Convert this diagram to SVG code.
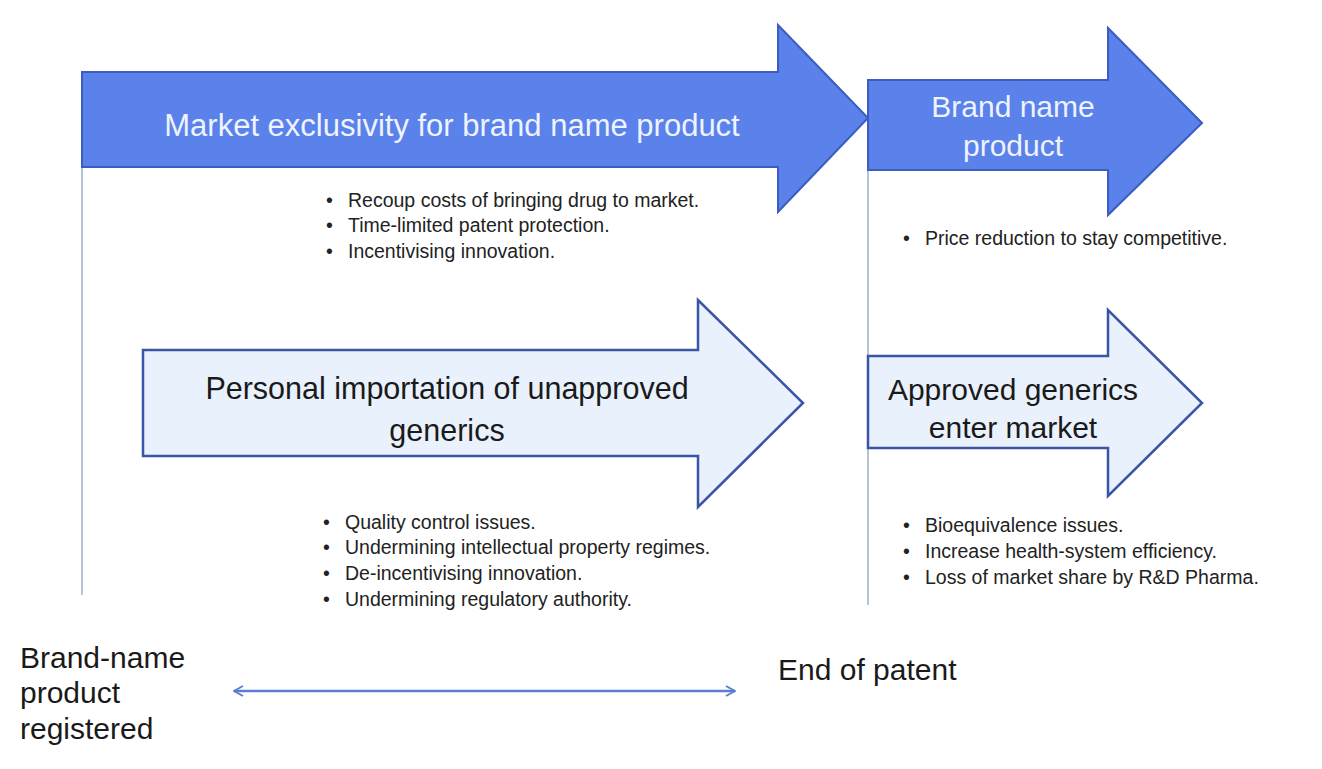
<svg xmlns="http://www.w3.org/2000/svg" width="1322" height="769" viewBox="0 0 1322 769">
<defs>
<style>
.dark{fill:#5a82ea;stroke:#3b5cc0;stroke-width:2;stroke-linejoin:miter}
.light{fill:#e9f1fc;stroke:#3b55a6;stroke-width:2.5;stroke-linejoin:miter}
.vline{stroke:#b7c3d6;stroke-width:2;fill:none}
.wt{font-family:"Liberation Sans",Arial,sans-serif;fill:#eef3ff;font-size:30px;text-anchor:middle}
.bt{font-family:"Liberation Sans",Arial,sans-serif;fill:#1a1a1a;font-size:30.5px;text-anchor:middle}
.bl{font-family:"Liberation Sans",Arial,sans-serif;fill:#222;font-size:19.5px}
.lb{font-family:"Liberation Sans",Arial,sans-serif;fill:#1a1a1a;font-size:30px}
</style>
<marker id="ah" viewBox="0 0 12 12" refX="11" refY="6" markerWidth="12" markerHeight="12" markerUnits="userSpaceOnUse" orient="auto-start-reverse">
<path d="M2,1 L11,6 L2,11" fill="none" stroke="#5b7fd0" stroke-width="2"/>
</marker>
</defs>
<rect width="1322" height="769" fill="#ffffff"/>
<g id="connectors">
<line class="vline" x1="82" y1="167" x2="82" y2="595"/>
<line class="vline" x1="868" y1="170" x2="868" y2="605"/>
<line x1="234" y1="691" x2="735" y2="691" stroke="#5b7fd0" stroke-width="2.5" marker-start="url(#ah)" marker-end="url(#ah)"/>
</g>
<g id="market-exclusivity">
<polygon class="dark" points="82,72 778,72 778,25 868,118 778,212 778,167 82,167"/>
<text class="wt" x="452" y="136" style="font-size:31px">Market exclusivity for brand name product</text>
<text class="bl" x="326" y="207">•</text><text class="bl" x="348" y="207">Recoup costs of bringing drug to market.</text>
<text class="bl" x="326" y="232">•</text><text class="bl" x="348" y="232">Time-limited patent protection.</text>
<text class="bl" x="326" y="258">•</text><text class="bl" x="348" y="258">Incentivising innovation.</text>
</g>
<g id="brand-name-product">
<polygon class="dark" points="868,80 1108,80 1108,28 1202,123 1108,215 1108,170 868,170"/>
<text class="wt" x="1013" y="117">Brand name</text>
<text class="wt" x="1013" y="156">product</text>
<text class="bl" x="903" y="245">•</text><text class="bl" x="925" y="245">Price reduction to stay competitive.</text>
</g>
<g id="personal-importation">
<polygon class="light" points="143,350 698,350 698,300 803,403 698,507 698,456 143,456"/>
<text class="bt" x="447" y="399">Personal importation of unapproved</text>
<text class="bt" x="447" y="441">generics</text>
<text class="bl" x="323" y="529">•</text><text class="bl" x="345" y="529">Quality control issues.</text>
<text class="bl" x="323" y="554">•</text><text class="bl" x="345" y="554">Undermining intellectual property regimes.</text>
<text class="bl" x="323" y="580">•</text><text class="bl" x="345" y="580">De-incentivising innovation.</text>
<text class="bl" x="323" y="606">•</text><text class="bl" x="345" y="606">Undermining regulatory authority.</text>
</g>
<g id="approved-generics">
<polygon class="light" points="868,356 1108,356 1108,310 1202,403 1108,496 1108,448 868,448"/>
<text class="bt" x="1013" y="400" style="font-size:30px">Approved generics</text>
<text class="bt" x="1013" y="438" style="font-size:30px">enter market</text>
<text class="bl" x="903" y="532">•</text><text class="bl" x="925" y="532">Bioequivalence issues.</text>
<text class="bl" x="903" y="558">•</text><text class="bl" x="925" y="558">Increase health-system efficiency.</text>
<text class="bl" x="903" y="584">•</text><text class="bl" x="925" y="584">Loss of market share by R&amp;D Pharma.</text>
</g>
<g id="brand-registered">
<text class="lb" x="20" y="668">Brand-name</text>
<text class="lb" x="20" y="703">product</text>
<text class="lb" x="20" y="739">registered</text>
</g>
<g id="end-of-patent">
<text class="lb" x="778" y="680">End of patent</text>
</g>
</svg>
